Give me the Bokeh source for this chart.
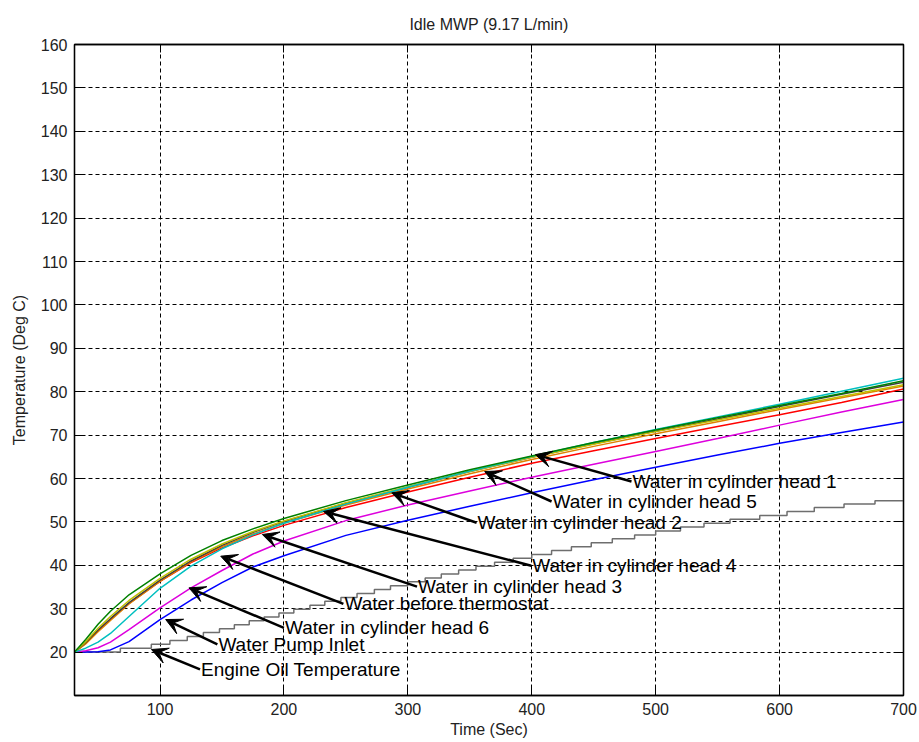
from bokeh.plotting import figure
from bokeh.models import (Range1d, FixedTicker, LinearAxis, Arrow, VeeHead,
                          ColumnDataSource, CustomJSTickFormatter)
from bokeh.core.properties import value
from bokeh.embed import file_html
from bokeh.resources import INLINE

# ---- data -------------------------------------------------------------
time_s = [31, 40, 50, 60, 75, 100, 125, 150, 175, 200, 250, 300, 350, 400,
          450, 500, 550, 600, 650, 700]

head1 = [20.0, 22.9, 26.4, 29.4, 33.2, 38.0, 42.3, 45.7, 48.4, 50.8, 54.9,
         58.5, 62.0, 65.2, 68.3, 71.2, 74.0, 76.8, 79.6, 82.5]
head2 = [20.0, 22.4, 25.5, 28.2, 31.9, 37.0, 41.4, 44.9, 47.8, 50.2, 54.4,
         58.1, 61.6, 64.9, 67.9, 70.8, 73.5, 76.2, 78.9, 81.6]
head5 = [20.0, 20.9, 22.3, 24.3, 28.2, 34.7, 39.8, 43.8, 47.0, 49.7, 54.1,
         58.0, 61.7, 65.1, 68.3, 71.3, 74.2, 77.1, 80.1, 83.1]
head4 = [20.0, 22.2, 25.1, 27.7, 31.4, 36.6, 41.0, 44.6, 47.6, 50.1, 54.3,
         58.0, 61.6, 64.9, 68.0, 70.9, 73.7, 76.6, 79.4, 82.2]
head3 = [20.0, 21.9, 24.7, 27.3, 31.1, 36.3, 40.8, 44.3, 47.2, 49.7, 53.9,
         57.6, 61.1, 64.4, 67.4, 70.3, 73.1, 75.9, 78.6, 81.3]
before_thermostat = [20.0, 22.0, 24.9, 27.5, 31.2, 36.3, 40.6, 44.0, 46.8,
                     49.2, 53.3, 56.9, 60.3, 63.5, 66.4, 69.2, 72.0, 74.7,
                     77.5, 80.6]
head6 = [20.0, 20.3, 21.0, 22.3, 25.2, 30.2, 34.8, 38.8, 42.6, 45.6, 50.3,
         53.9, 57.1, 60.3, 63.3, 66.2, 69.2, 72.3, 75.3, 78.2]
pump_inlet = [20.0, 20.0, 20.1, 20.5, 22.4, 27.5, 32.0, 36.0, 39.6, 42.2,
              46.9, 50.4, 53.6, 56.7, 59.7, 62.6, 65.4, 68.1, 70.6, 73.0]

# engine oil sensor reading (stepwise)
oil_time = [31, 68, 93, 108, 122, 135, 148, 160, 172, 184, 196, 208, 221,
            233, 246, 259, 273, 286, 300, 314, 327, 341, 355, 370, 385, 400,
            416, 432, 448, 465, 483, 500, 520, 539, 560, 584, 606, 628, 652,
            677, 700]
oil_temp = [20.0, 20.9, 21.8, 22.7, 23.6, 24.5, 25.4, 26.3, 27.2, 28.1, 29.0,
            29.9, 30.8, 31.7, 32.6, 33.5, 34.4, 35.3, 36.2, 37.1, 38.0, 38.9,
            39.8, 40.7, 41.6, 42.5, 43.4, 44.3, 45.2, 46.1, 47.0, 47.9, 48.8,
            49.7, 50.6, 51.5, 52.4, 53.3, 54.1, 54.9, 54.9]

# annotation labels: text anchor (left, middle) and arrow tip
ann_text = ["Water in cylinder head 1", "Water in cylinder head 5",
            "Water in cylinder head 2", "Water in cylinder head 4",
            "Water in cylinder head 3", "Water before thermostat",
            "Water in cylinder head 6", "Water Pump Inlet",
            "Engine Oil Temperature"]
ann_x = [480.5, 416.0, 355.5, 399.6, 307.4, 248.0, 200.0, 146.3, 132.3]
ann_y = [59.3, 54.7, 49.8, 39.9, 35.1, 31.1, 25.6, 21.8, 16.0]
tip_x = [403.0, 362.0, 287.0, 232.0, 182.6, 149.0, 123.4, 104.6, 93.1]
tip_y = [65.5, 61.6, 56.7, 52.4, 47.1, 42.1, 34.8, 27.5, 20.6]

x_ticks = [100, 200, 300, 400, 500, 600, 700]
y_ticks = [20, 30, 40, 50, 60, 70, 80, 90, 100, 110, 120, 130, 140, 150, 160]

FONT = "Liberation Sans"

# ---- figure -----------------------------------------------------------
p = figure(width=919, height=742, output_backend="svg", toolbar_location=None,
           x_range=Range1d(31, 700), y_range=Range1d(10, 160),
           min_border_left=74, min_border_right=16, min_border_top=44,
           min_border_bottom=47, background_fill_color="white",
           border_fill_color="white", title="Idle MWP (9.17 L/min)")

p.title.align = "center"
p.title.text_font = FONT
p.title.text_font_size = "16px"
p.title.text_font_style = "normal"
p.title.text_color = "#222222"
p.title.standoff = 24

p.outline_line_color = "black"
p.outline_line_width = 1.3
p.outline_line_alpha = 1.0

for ax, ticks in ((p.xaxis[0], x_ticks), (p.yaxis[0], y_ticks)):
    ax.ticker = FixedTicker(ticks=ticks)
    ax.major_tick_in = 8
    ax.major_tick_out = 0
    ax.minor_tick_in = 0
    ax.minor_tick_out = 0
    ax.axis_line_color = "black"
    ax.axis_line_width = 1.3
    ax.major_tick_line_color = "black"
    ax.major_label_text_font = FONT
    ax.major_label_text_font_size = "16px"
    ax.major_label_text_color = "#222222"
    ax.axis_label_text_font = FONT
    ax.axis_label_text_font_size = "16px"
    ax.axis_label_text_font_style = "normal"
    ax.axis_label_text_color = "#222222"

p.xaxis.axis_label = "Time (Sec)"
p.yaxis.axis_label = "Temperature (Deg C)"
p.xaxis.major_label_standoff = 7
p.yaxis.major_label_standoff = 7
p.xaxis.axis_label_standoff = 3
p.yaxis.axis_label_standoff = 10

# tick marks on the opposite sides of the box (no labels)
for loc, ticks in (("right", y_ticks), ("above", x_ticks)):
    ax = LinearAxis(ticker=FixedTicker(ticks=ticks),
                    formatter=CustomJSTickFormatter(code="return ''"))
    ax.major_tick_in = 8
    ax.major_tick_out = 0
    ax.minor_tick_in = 0
    ax.minor_tick_out = 0
    ax.axis_line_color = "black"
    ax.axis_line_width = 1.3
    ax.major_label_standoff = 0
    p.add_layout(ax, loc)

p.xgrid.ticker = FixedTicker(ticks=x_ticks[:-1])
p.ygrid.ticker = FixedTicker(ticks=y_ticks[:-1])
for g in (p.xgrid[0], p.ygrid[0]):
    g.grid_line_color = "black"
    g.grid_line_dash = "4 3"
    g.grid_line_width = 1
    g.grid_line_alpha = 1.0

# ---- series -----------------------------------------------------------
p.step(oil_time, oil_temp, mode="after", line_color="#6e6e6e", line_width=1.5)
p.line(time_s, pump_inlet, line_color="#0000ff", line_width=1.5)
p.line(time_s, head6, line_color="#dd00dd", line_width=1.5)
p.line(time_s, before_thermostat, line_color="#ff0000", line_width=1.5)
p.line(time_s, head3, line_color="#e08000", line_width=1.5)
p.line(time_s, head4, line_color="#404040", line_width=1.5)
p.line(time_s, head2, line_color="#bfbf00", line_width=1.5)
p.line(time_s, head5, line_color="#00bfbf", line_width=1.5)
p.line(time_s, head1, line_color="#008000", line_width=1.5)

# ---- annotations ------------------------------------------------------
ann = ColumnDataSource(dict(x=ann_x, y=ann_y, tx=tip_x, ty=tip_y, text=ann_text))
p.add_layout(Arrow(source=ann, x_start="x", y_start="y", x_end="tx", y_end="ty",
                   line_color="black", line_width=2.5,
                   end=VeeHead(size=16, fill_color="black", line_color="black",
                               line_width=1)))
p.text(x="x", y="y", text="text", source=ann, text_font=value(FONT),
       text_font_size=value("19px"), text_baseline="middle", text_align="left",
       text_color="#000000", x_offset=1)

open("out.html", "w").write(file_html(p, INLINE))
